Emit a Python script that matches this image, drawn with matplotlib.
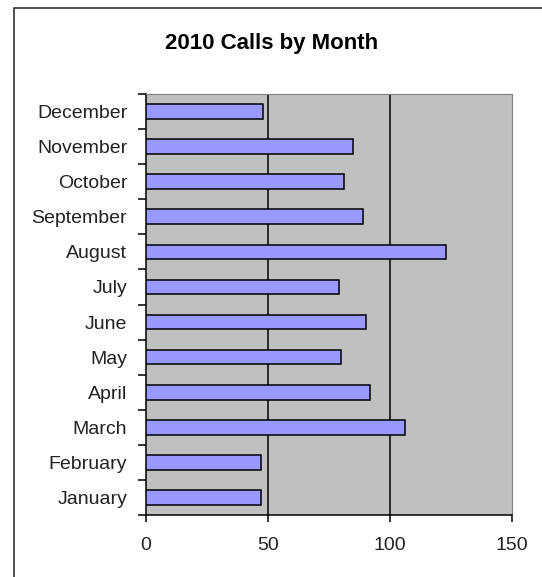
import numpy as np
import matplotlib
matplotlib.use('Agg')
from matplotlib import pyplot as plt
from matplotlib.patches import Rectangle

months = ['January', 'February', 'March', 'April', 'May', 'June',
          'July', 'August', 'September', 'October', 'November', 'December']
calls = [47, 47, 106, 92, 80, 90, 79, 123, 89, 81, 85, 48]
x_ticks = [0, 50, 100, 150]

plt.rcParams['font.family'] = ['Liberation Sans', 'DejaVu Sans']

fig = plt.figure(figsize=(5.42, 5.77), dpi=100)

# outer chart border (cropped on right and bottom in the original)
fig.patches.append(Rectangle((13.5 / 542, -0.05), 1.2, 1 - 7.5 / 577 + 0.05,
                             transform=fig.transFigure, fill=False,
                             edgecolor='#333333', linewidth=1.2))

ax = fig.add_axes([146 / 542, 62 / 577, 366 / 542, 421 / 577])
ax.set_facecolor('#C0C0C0')

y = np.arange(len(months))
ax.barh(y, calls, height=0.42, color='#9999FF', edgecolor='black', linewidth=1.1, zorder=3)

ax.set_xlim(0, 150)
ax.set_ylim(-0.5, len(months) - 0.5)

ax.set_xticks(x_ticks)
ax.set_xticklabels([str(t) for t in x_ticks])
for t in x_ticks[1:-1]:
    ax.axvline(t, color='black', linewidth=1.1, zorder=1)

ax.set_yticks(y)
ax.set_yticklabels(months)
ax.set_yticks(np.arange(-0.5, len(months)), minor=True)
ax.tick_params(axis='y', which='major', length=0, pad=13.5, labelsize=14, labelcolor='#222222')
ax.tick_params(axis='y', which='minor', length=6, width=1.1, direction='out', color='black')
ax.tick_params(axis='x', which='major', length=5, width=1.1, direction='out', pad=11,
               labelsize=14, labelcolor='#222222')

ax.spines['left'].set_color('black')
ax.spines['left'].set_linewidth(1.1)
ax.spines['bottom'].set_color('black')
ax.spines['bottom'].set_linewidth(1.1)
ax.spines['top'].set_color('#808080')
ax.spines['right'].set_color('#808080')

fig.text(272 / 542, 1 - 43 / 577, '2010 Calls by Month', ha='center', va='center',
         fontsize=16, fontweight='bold', color='black')

fig.savefig('out.png', dpi=100)
